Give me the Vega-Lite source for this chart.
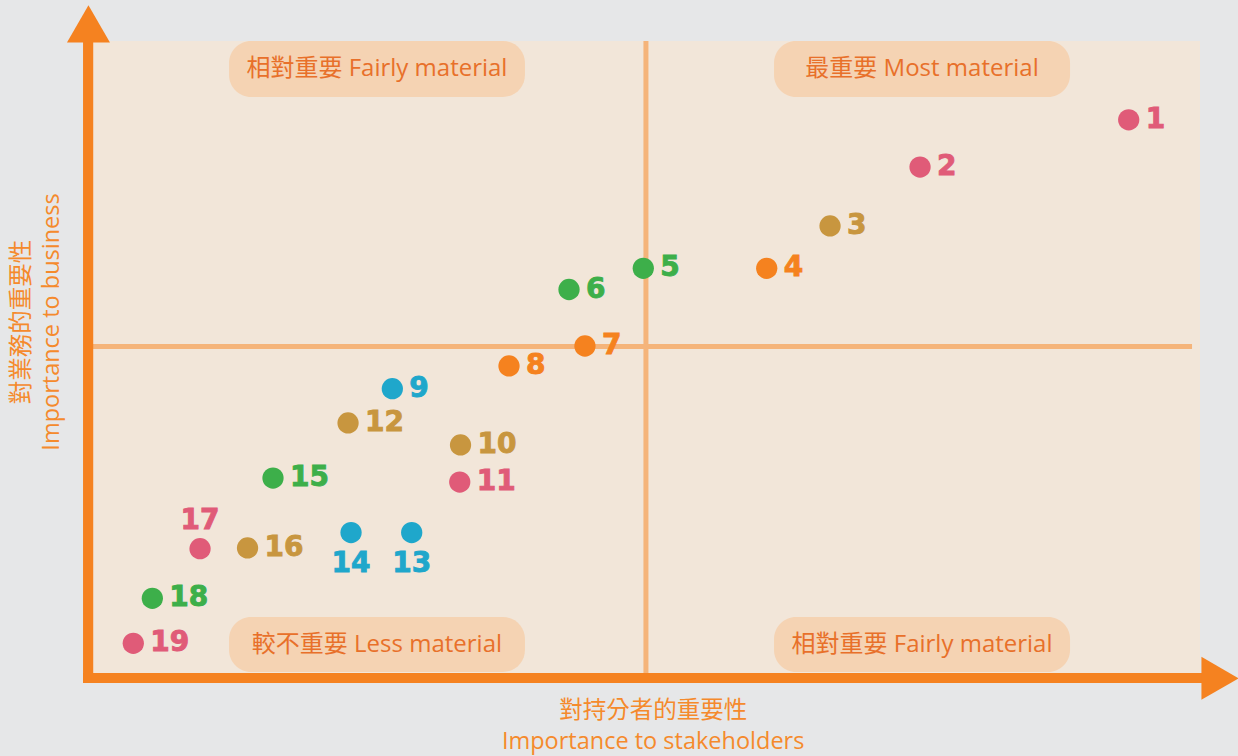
{
  "$schema": "https://vega.github.io/schema/vega-lite/v6.json",
  "width": 1238,
  "height": 756,
  "padding": 0,
  "autosize": {"type": "none"},
  "background": "#e6e7e8",
  "config": {
    "view": {"stroke": null},
    "axis": {"disable": true},
    "legend": {"disable": true}
  },
  "datasets": {
    "plot": [{"x": 0, "x2": 100, "y": 0, "y2": 100}],
    "dividers": [
      {"x": 49.95, "x2": 49.95, "y": 0, "y2": 100},
      {"x": 0, "x2": 99.28, "y": 51.66, "y2": 51.66}
    ],
    "boxes": [
      {"x": 12.29, "x2": 39.02, "y": 91.14, "y2": 100},
      {"x": 61.52, "x2": 88.26, "y": 91.14, "y2": 100},
      {"x": 12.29, "x2": 39.02, "y": 0.16, "y2": 8.86},
      {"x": 61.52, "x2": 88.26, "y": 0.16, "y2": 8.86}
    ],
    "boxLabels": [
      {"x": 25.65, "y": 95.5, "text": "相對重要 Fairly material"},
      {"x": 74.89, "y": 95.5, "text": "最重要 Most material"},
      {"x": 25.65, "y": 4.36, "text": "較不重要 Less material"},
      {"x": 74.89, "y": 4.36, "text": "相對重要 Fairly material"}
    ],
    "axisBars": [
      {"x": -0.9, "x2": 0.02, "y": -1.58, "y2": 99.84},
      {"x": -0.9, "x2": 100.27, "y": -1.58, "y2": 0}
    ],
    "arrowUp": [{"x": -0.41, "y": 102.71}],
    "arrowRight": [{"x": 101.81, "y": -0.84}],
    "issues": [
      {"id": 1, "x": 93.56, "y": 87.53, "group": "A"},
      {"id": 2, "x": 74.71, "y": 80.06, "group": "A"},
      {"id": 3, "x": 66.58, "y": 70.73, "group": "B"},
      {"id": 4, "x": 60.86, "y": 64.03, "group": "C"},
      {"id": 5, "x": 49.71, "y": 64.03, "group": "D"},
      {"id": 6, "x": 43.0, "y": 60.68, "group": "D"},
      {"id": 7, "x": 44.44, "y": 51.74, "group": "C"},
      {"id": 8, "x": 37.58, "y": 48.58, "group": "C"},
      {"id": 9, "x": 27.04, "y": 44.98, "group": "E"},
      {"id": 10, "x": 33.2, "y": 36.08, "group": "B"},
      {"id": 11, "x": 33.13, "y": 30.22, "group": "A"},
      {"id": 12, "x": 23.04, "y": 39.56, "group": "B"},
      {"id": 13, "x": 28.79, "y": 22.23, "group": "E"},
      {"id": 14, "x": 23.31, "y": 22.23, "group": "E"},
      {"id": 15, "x": 16.26, "y": 30.85, "group": "D"},
      {"id": 16, "x": 13.96, "y": 19.78, "group": "B"},
      {"id": 17, "x": 9.67, "y": 19.67, "group": "A"},
      {"id": 18, "x": 5.36, "y": 11.82, "group": "D"},
      {"id": 19, "x": 3.64, "y": 4.7, "group": "A"}
    ],
    "xTitles": [
      {"x": 50.6, "y": -5.95, "text": "對持分者的重要性"},
      {"x": 50.6, "y": -10.95, "text": "Importance to stakeholders"}
    ],
    "yTitles": [
      {"x": -6.45, "y": 55.54, "text": "對業務的重要性"},
      {"x": -3.7, "y": 55.54, "text": "Importance to business"}
    ]
  },
  "encoding": {
    "x": {"field": "x", "type": "quantitative", "scale": {"domain": [-8.401, 103.433], "nice": false, "zero": false}},
    "y": {"field": "y", "type": "quantitative", "scale": {"domain": [-13.133, 106.487], "nice": false, "zero": false}}
  },
  "layer": [
    {
      "data": {"name": "plot"},
      "mark": {"type": "rect", "color": "#f2e6d9"},
      "encoding": {"x2": {"field": "x2"}, "y2": {"field": "y2"}}
    },
    {
      "data": {"name": "dividers"},
      "mark": {"type": "rule", "color": "#f5b47a", "strokeWidth": 5},
      "encoding": {"x2": {"field": "x2"}, "y2": {"field": "y2"}}
    },
    {
      "data": {"name": "boxes"},
      "mark": {"type": "rect", "color": "#f5d3b3", "cornerRadius": 22},
      "encoding": {"x2": {"field": "x2"}, "y2": {"field": "y2"}}
    },
    {
      "data": {"name": "boxLabels"},
      "mark": {"type": "text", "font": "Open Sans, Noto Sans CJK TC", "fontSize": 24, "color": "#e8702a", "align": "center", "baseline": "middle"},
      "encoding": {"text": {"field": "text"}}
    },
    {
      "data": {"name": "axisBars"},
      "mark": {"type": "rect", "color": "#f58220"},
      "encoding": {"x2": {"field": "x2"}, "y2": {"field": "y2"}}
    },
    {
      "data": {"name": "arrowUp"},
      "mark": {"type": "point", "shape": "triangle-up", "filled": true, "size": 1849, "color": "#f58220", "opacity": 1},
      "encoding": {}
    },
    {
      "data": {"name": "arrowRight"},
      "mark": {"type": "point", "shape": "triangle-right", "filled": true, "size": 1849, "color": "#f58220", "opacity": 1},
      "encoding": {}
    },
    {
      "data": {"name": "xTitles"},
      "mark": {"type": "text", "font": "Open Sans, Noto Sans CJK TC", "fontSize": 23.5, "color": "#f58a2c", "align": "center", "baseline": "middle"},
      "encoding": {"text": {"field": "text"}}
    },
    {
      "data": {"name": "yTitles"},
      "mark": {"type": "text", "font": "Open Sans, Noto Sans CJK TC", "fontSize": 23.5, "color": "#f58a2c", "align": "center", "baseline": "middle", "angle": 270},
      "encoding": {"text": {"field": "text"}}
    },
    {
      "data": {"name": "issues"},
      "mark": {"type": "point", "shape": "circle", "filled": true, "size": 452, "opacity": 1},
      "encoding": {
        "color": {"field": "group", "type": "nominal", "scale": {"domain": ["A", "B", "C", "D", "E"], "range": ["#e05b78", "#c8963f", "#f5821f", "#3daf4a", "#1fa7cb"]}}
      }
    },
    {
      "data": {"name": "issues"},
      "transform": [{"filter": {"not": {"field": "id", "oneOf": [13, 14, 17]}}}],
      "mark": {"type": "text", "font": "DejaVu Sans", "fontWeight": "bold", "fontSize": 28, "align": "left", "baseline": "middle", "dx": 17, "strokeWidth": 0.9},
      "encoding": {
        "text": {"field": "id", "type": "nominal"},
        "color": {"field": "group", "type": "nominal", "scale": {"domain": ["A", "B", "C", "D", "E"], "range": ["#e05b78", "#c8963f", "#f5821f", "#3daf4a", "#1fa7cb"]}},
        "stroke": {"field": "group", "type": "nominal", "scale": {"domain": ["A", "B", "C", "D", "E"], "range": ["#e05b78", "#c8963f", "#f5821f", "#3daf4a", "#1fa7cb"]}}
      }
    },
    {
      "data": {"name": "issues"},
      "transform": [{"filter": {"field": "id", "oneOf": [17]}}],
      "mark": {"type": "text", "font": "DejaVu Sans", "fontWeight": "bold", "fontSize": 28, "align": "center", "baseline": "middle", "dy": -28, "strokeWidth": 0.9},
      "encoding": {
        "text": {"field": "id", "type": "nominal"},
        "color": {"field": "group", "type": "nominal", "scale": {"domain": ["A", "B", "C", "D", "E"], "range": ["#e05b78", "#c8963f", "#f5821f", "#3daf4a", "#1fa7cb"]}},
        "stroke": {"field": "group", "type": "nominal", "scale": {"domain": ["A", "B", "C", "D", "E"], "range": ["#e05b78", "#c8963f", "#f5821f", "#3daf4a", "#1fa7cb"]}}
      }
    },
    {
      "data": {"name": "issues"},
      "transform": [{"filter": {"field": "id", "oneOf": [13, 14]}}],
      "mark": {"type": "text", "font": "DejaVu Sans", "fontWeight": "bold", "fontSize": 28, "align": "center", "baseline": "middle", "dy": 31, "strokeWidth": 0.9},
      "encoding": {
        "text": {"field": "id", "type": "nominal"},
        "color": {"field": "group", "type": "nominal", "scale": {"domain": ["A", "B", "C", "D", "E"], "range": ["#e05b78", "#c8963f", "#f5821f", "#3daf4a", "#1fa7cb"]}},
        "stroke": {"field": "group", "type": "nominal", "scale": {"domain": ["A", "B", "C", "D", "E"], "range": ["#e05b78", "#c8963f", "#f5821f", "#3daf4a", "#1fa7cb"]}}
      }
    }
  ]
}
